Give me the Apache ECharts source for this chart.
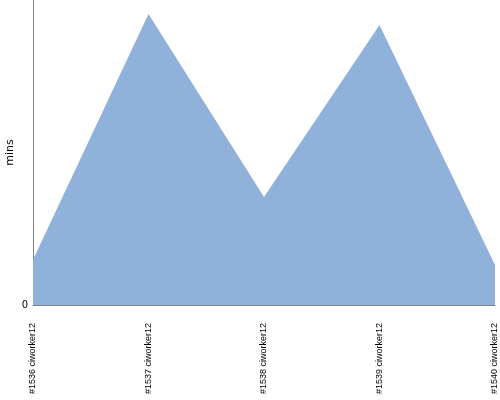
<!DOCTYPE html>
<html><head><meta charset="utf-8">
<script src="https://cdn.jsdelivr.net/npm/echarts@6/dist/echarts.min.js"></script>
<style>html,body{margin:0;padding:0;background:#fff}#c{width:500px;height:400px}</style>
</head><body><div id="c"></div>
<script>
const categories = ["#1536 ciworker12", "#1537 ciworker12", "#1538 ciworker12", "#1539 ciworker12", "#1540 ciworker12"];
const durations = [1.48, 9.54, 3.54, 9.18, 1.31];
const yMax = 10;
const chart = echarts.init(document.getElementById('c'), null, {renderer: 'canvas'});
chart.setOption({
  animation: false,
  grid: {left: 33, right: 5, top: 0, bottom: 95, containLabel: false, outerBoundsMode: 'none'},
  xAxis: {
    type: 'category', data: categories, boundaryGap: false,
    axisLine: {lineStyle: {color: '#808080', width: 1}},
    axisTick: {show: false},
    axisLabel: {rotate: 90, interval: 0, margin: 18, color: '#000', fontSize: 9, fontFamily: 'Liberation Sans'}
  },
  yAxis: {
    type: 'value', min: 0, max: yMax, interval: yMax,
    name: 'mins', nameLocation: 'middle', nameGap: 17, nameMoveOverlap: false,
    nameTextStyle: {color: '#000', fontSize: 11, fontFamily: 'DejaVu Sans'},
    axisLine: {show: true, lineStyle: {color: '#808080', width: 1}},
    axisTick: {show: false},
    splitLine: {show: false},
    axisLabel: {color: '#000', fontSize: 10, fontFamily: 'DejaVu Sans', margin: 5, formatter: v => v === 0 ? '0' : ''}
  },
  series: [{
    type: 'line', data: durations, showSymbol: false,
    lineStyle: {width: 0},
    areaStyle: {color: '#8fb1da', opacity: 1}
  }]
});
</script></body></html>
